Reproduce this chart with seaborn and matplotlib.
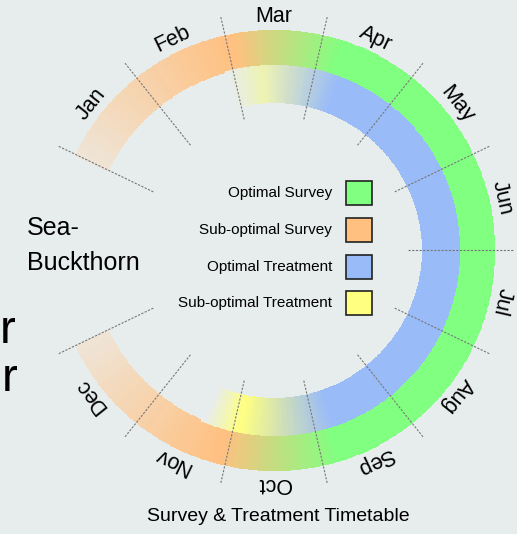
import numpy as np
import pandas as pd
import matplotlib
matplotlib.use("Agg")
import matplotlib.pyplot as plt
from matplotlib.colors import LinearSegmentedColormap, Normalize
from matplotlib.patches import Rectangle
import seaborn as sns

months = ["Jan", "Feb", "Mar", "Apr", "May", "Jun",
          "Jul", "Aug", "Sep", "Oct", "Nov", "Dec"]
legend_labels = ["Optimal Survey", "Sub-optimal Survey",
                 "Optimal Treatment", "Sub-optimal Treatment"]
legend_colors = ["#80FF80", "#FFC080", "#99BBF8", "#FFFF80"]

# state of each ring, given in months counted from the start of Jan
survey_pos = [0.0, 2.05, 3.2, 8.85, 10.1, 12.0]
survey_state = ["fade", "Sub-optimal Survey", "Optimal Survey",
                "Optimal Survey", "Sub-optimal Survey", "fade"]
treat_pos = [1.9, 2.35, 3.3, 8.8, 9.95, 10.4]
treat_state = ["none", "pale", "Optimal Treatment",
               "Optimal Treatment", "Sub-optimal Treatment", "none"]

BG = "#E7ECEC"
W, H = 517, 534
CX, CY = 274, 250
R_AX = 245
SLOT = 360 / 14          # 12 months + 2 empty slots on the left
START = 180 - SLOT       # Jan starts here (deg, ccw from east)


def theta(m):
    return np.deg2rad(START - np.asarray(m) * SLOT)


def px(x, y):
    return x / W, 1 - y / H


sns.set_theme(style="white", rc={"figure.facecolor": BG, "axes.facecolor": BG,
                                 "text.color": "black"})
plt.rcParams["font.family"] = ["Liberation Sans", "DejaVu Sans"]

state_color = dict(zip(legend_labels, legend_colors))
state_color["fade"] = "#EFE4D6"
state_color["pale"] = "#EEF3B2"
state_color["none"] = BG

fig = plt.figure(figsize=(W / 100, H / 100), dpi=100)
ax = fig.add_axes([(CX - R_AX) / W, (H - CY - R_AX) / H, 2 * R_AX / W, 2 * R_AX / H],
                  projection="polar")


def ring(pos, state, r0, r1):
    span = pos[-1] - pos[0]
    cmap = LinearSegmentedColormap.from_list(
        "ring", [((p - pos[0]) / span, state_color[s]) for p, s in zip(pos, state)])
    m = np.linspace(pos[0], pos[-1], 500)
    T, R = np.meshgrid(theta(m), [r0, r1])
    C = ((m[:-1] + m[1:]) / 2)[None, :]
    ax.pcolormesh(T, R, C, cmap=cmap, norm=Normalize(pos[0], pos[-1]),
                  shading="flat", edgecolors="face", linewidth=0.4)


ring(survey_pos, survey_state, 185, 220)
ring(treat_pos, treat_state, 148, 185)

# dashed month separators
sep = pd.DataFrame({
    "theta": np.repeat(theta(np.arange(13)), 2),
    "r": np.tile([134, 239], 13),
    "edge": np.repeat(np.arange(13), 2),
})
sns.lineplot(data=sep, x="theta", y="r", units="edge", estimator=None, sort=False,
             color="#777777", linewidth=0.8, linestyle=(0, (2, 1.3)), ax=ax)

for i, name in enumerate(months):
    t = START - (i + 0.5) * SLOT
    ax.text(np.deg2rad(t), 234, name, rotation=t - 90, rotation_mode="anchor",
            ha="center", va="center", fontsize=15.5)

ax.set_ylim(0, R_AX)
ax.axis("off")

# legend in the middle
rows_y = [193, 230, 267, 303]
for lab, col, y in zip(legend_labels, legend_colors, rows_y):
    fig.text(*px(332, y), lab, ha="right", va="center", fontsize=11)
    fig.add_artist(Rectangle(px(346, y + 12), 26 / W, 24 / H, transform=fig.transFigure,
                             facecolor=col, edgecolor="#222222", linewidth=1.2))

fig.text(*px(27, 235), "Sea-", fontsize=18, va="baseline")
fig.text(*px(27, 270), "Buckthorn", fontsize=18, va="baseline")
fig.text(*px(0, 343), "r", fontsize=34, va="baseline")
fig.text(*px(2, 391), "r", fontsize=34, va="baseline")
fig.text(*px(278, 521), "Survey & Treatment Timetable", ha="center", va="baseline",
         fontsize=14)

fig.savefig("out.png", dpi=100, facecolor=BG)
